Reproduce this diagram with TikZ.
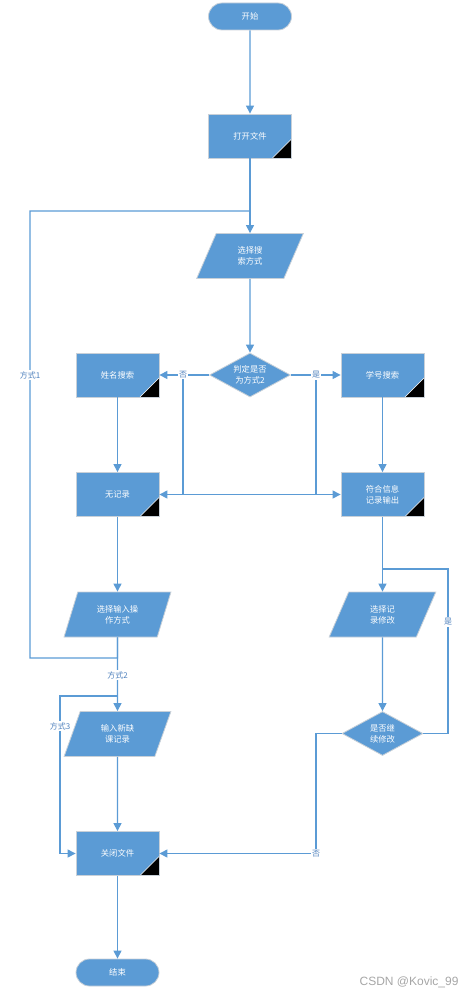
\documentclass[tikz,border=0pt]{standalone}
\usepackage{fontspec}
\setmainfont{Noto Sans CJK SC}
\newfontfamily\wmfont{Liberation Sans}
\usetikzlibrary{shapes.geometric,arrows.meta}
\definecolor{fblue}{HTML}{5B9BD5}
\definecolor{lblue}{HTML}{5B9BD5}
\definecolor{tblue}{HTML}{4F81BD}
\definecolor{edge}{HTML}{C8D0D8}
\tikzset{
  base/.style={fill=fblue, draw=edge, line width=0.8pt, text=white, font=\fontsize{8.3}{11}\selectfont, align=center, inner sep=0pt},
  procbox/.style={base, rectangle, minimum width=83pt, minimum height=44pt,
    path picture={\fill[black] (path picture bounding box.south east) -- ++(-19,0) -- ++(19,-19) -- cycle;
                  \draw[white, line width=0.6pt] (path picture bounding box.south east) ++(-19,0) -- ++(19,-19);}},
  termbox/.style={base, rounded rectangle, minimum width=83pt, minimum height=27pt},
  iobox/.style={base, trapezium, trapezium left angle=69, trapezium right angle=111, trapezium stretches=true, minimum width=107pt, minimum height=45pt},
  decbox/.style={base, diamond, minimum width=81pt, minimum height=44pt, aspect=1.8},
  conn/.style={draw=lblue, line width=1.1pt, -{Triangle[length=8pt,width=8pt]}},
  wire/.style={draw=lblue, line width=1.1pt},
  lab/.style={fill=white, text=tblue, font=\fontsize{8}{10}\selectfont, inner sep=1pt},
}
\usetikzlibrary{shapes.misc}
\begin{document}
\begin{tikzpicture}[x=1pt,y=-1pt]
\useasboundingbox (0,0) rectangle (476,998);
\node[termbox] (start) at (250,16.5) {开始};
\node[procbox] (open) at (250,136) {打开文件};
\node[iobox] (choose) at (250,256) {选择搜\\索方式};
\node[decbox] (dec) at (250,375) {判定是否\\为方式2};
\node[procbox] (name) at (117.5,375) {姓名搜索};
\node[procbox] (sid) at (382.5,375) {学号搜索};
\node[procbox] (norec) at (117.5,494.5) {无记录};
\node[procbox] (match) at (382.5,494.5) {符合信息\\记录输出};
\node[iobox] (inop) at (117.5,614.5) {选择输入操\\作方式};
\node[iobox] (chmod) at (382.5,614.5) {选择记\\录修改};
\node[iobox] (innew) at (117.5,734) {输入新缺\\课记录};
\node[decbox] (cont) at (382.5,733.5) {是否继\\续修改};
\node[procbox] (close) at (117.5,853.5) {关闭文件};
\node[termbox] (end) at (117.5,972.5) {结束};

\coordinate (j0) at (250,211);
\coordinate (lt) at (30,211);
\coordinate (lb) at (30,658);
\coordinate (j1) at (117.5,658);
\coordinate (j2) at (117.5,696);
\coordinate (m3) at (60,696);
\coordinate (nb) at (183,375);
\coordinate (yb) at (316,375);
\coordinate (rt) at (448,569);
\coordinate (rb) at (448,733.5);
\coordinate (j3) at (382.5,569);
\coordinate (nt) at (316,733.5);

\draw[conn] (start) -- (open);
\draw[conn] (open) -- (choose);
\draw[conn] (choose) -- (dec);
\draw[conn] (dec) -- (name);
\draw[conn] (dec) -- (sid);
\draw[conn] (nb) -- (nb |- match.west) -- (match.west);
\draw[conn] (yb) -- (yb |- norec.east) -- (norec.east);
\draw[conn] (name) -- (norec);
\draw[conn] (sid) -- (match);
\draw[conn] (norec) -- (inop);
\draw[conn] (match) -- (chmod);
\draw[conn] (chmod) -- (cont);
\draw[wire] (inop.south) -- (j1) -- (lb) -- (lt) -- (j0);
\draw[conn] (inop.south) -- (innew);
\draw[conn] (j2) -- (m3) -- (m3 |- close.west) -- (close.west);
\draw[conn] (innew) -- (close);
\draw[conn] (close) -- (end);
\draw[wire] (cont.east) -- (rb) -- (rt) -- (j3);
\draw[conn] (cont.west) -- (nt) -- (nt |- close.east) -- (close.east);

\node[lab] at (30,375) {方式1};
\node[lab] at (117.5,675) {方式2};
\node[lab] at (60,726) {方式3};
\node[lab] at (183,375) {否};
\node[lab] at (316,375) {是};
\node[lab] at (448,622) {是};
\node[lab] at (316,853.5) {否};
\node[text=gray!70, font=\wmfont\fontsize{12}{14}\selectfont, anchor=east] (wm) at (462,982) {CSDN @Kovic\_99};
\end{tikzpicture}
\end{document}
